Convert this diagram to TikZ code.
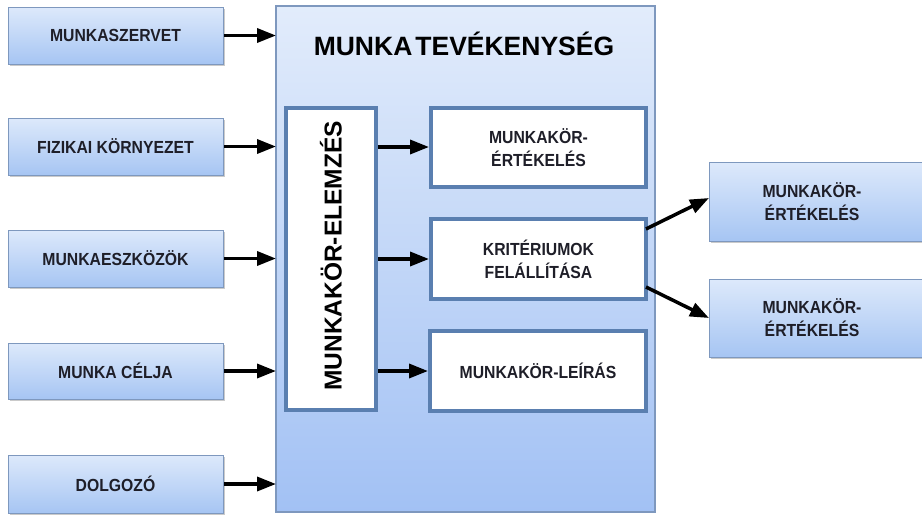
\documentclass[tikz,border=0pt]{standalone}
\usepackage{fontspec}
\setmainfont{Liberation Sans}
\usetikzlibrary{arrows.meta,shadows}
\definecolor{boxtop}{HTML}{DDE9FB}
\definecolor{boxbot}{HTML}{A6C5F3}
\definecolor{boxedge}{HTML}{7E98BE}
\definecolor{bigtop}{HTML}{E2ECFB}
\definecolor{bigbot}{HTML}{A2C1F4}
\definecolor{inneredge}{HTML}{5A7FB0}
\definecolor{txt}{HTML}{1E1E28}
% slightly condensed, taller lettering
\newcommand\cond[1]{\scalebox{0.9}[1]{#1}}
\tikzset{
  x=1pt, y=-1pt,
  inbox/.style={draw=boxedge, line width=1pt, top color=boxtop, bottom color=boxbot,
    drop shadow={shadow xshift=1.5pt, shadow yshift=-1.5pt, opacity=0.35, fill=black!60}},
  bigbox/.style={draw=boxedge, line width=1.2pt, top color=bigtop, bottom color=bigbot},
  wbox/.style={draw=inneredge, line width=3.2pt, fill=white},
  lbl/.style={font=\bfseries\fontsize{17.5}{23}\selectfont, text=txt, align=center},
  flow/.style={line width=3.5pt, -{Triangle[length=19pt,width=14pt]}}
}
\begin{document}
\begin{tikzpicture}
\useasboundingbox (0,0) rectangle (922,515);
\begin{scope}
\clip (0,0) rectangle (922,515);

% outer activity box
\path[bigbox] (276,6) rectangle (655,512);
\coordinate (bigW1) at (276,35.5);
\coordinate (bigW2) at (276,146.5);
\coordinate (bigW3) at (276,258.5);
\coordinate (bigW4) at (276,371);
\coordinate (bigW5) at (276,484);
\node[font=\bfseries\fontsize{26.5}{28}\selectfont, text=black] (title) at (464,44) {MUNKA\hspace{3pt}TEVÉKENYSÉG};

% input boxes
\path[inbox] (8,7) rectangle (223,64);
\node[lbl] (in1) at (115.5,35.5) {\cond{MUNKASZERVET}};
\path[inbox] (8,118) rectangle (223,175);
\node[lbl] (in2) at (115.5,146.5) {\cond{FIZIKAI KÖRNYEZET}};
\path[inbox] (8,230) rectangle (223,287);
\node[lbl] (in3) at (115.5,258.5) {\cond{MUNKAESZKÖZÖK}};
\path[inbox] (8,343) rectangle (223,399);
\node[lbl] (in4) at (115.5,371) {\cond{MUNKA CÉLJA}};
\path[inbox] (8,455) rectangle (223,513);
\node[lbl] (in5) at (115.5,484) {\cond{DOLGOZÓ}};

\coordinate (in1E) at (224,35.5);
\coordinate (in2E) at (224,146.5);
\coordinate (in3E) at (224,258.5);
\coordinate (in4E) at (224,371);
\coordinate (in5E) at (224,484);

% job analysis column
\path[wbox] (286,108) rectangle (376,410);
\node[font=\bfseries\fontsize{24.5}{28}\selectfont, text=black, rotate=90] (elem) at (331,256) {MUNKAKÖR-ELEMZÉS};
\coordinate (elemE1) at (378,147);
\coordinate (elemE2) at (378,259);
\coordinate (elemE3) at (378,371);

% output boxes inside
\path[wbox] (431,108) rectangle (646,187);
\node[lbl] (ert) at (538.5,147.5) {\cond{MUNKAKÖR-}\\\cond{ÉRTÉKELÉS}};
\path[wbox] (431,219) rectangle (646,299);
\node[lbl] (krit) at (538.5,259) {\cond{KRITÉRIUMOK}\\\cond{FELÁLLÍTÁSA}};
\path[wbox] (430,331) rectangle (646,411);
\node[lbl] (leir) at (538,371) {\cond{MUNKAKÖR-LEÍRÁS}};
\coordinate (ertW) at (429,147);
\coordinate (kritW) at (429,259);
\coordinate (leirW) at (428,371);
\coordinate (kritE1) at (646,229);
\coordinate (kritE2) at (646,287);

% boxes to the right
\path[inbox] (709,162) rectangle (935,241);
\node[lbl] (r1) at (812,201.5) {\cond{MUNKAKÖR-}\\\cond{ÉRTÉKELÉS}};
\path[inbox] (709,279) rectangle (935,357);
\node[lbl] (r2) at (812,318) {\cond{MUNKAKÖR-}\\\cond{ÉRTÉKELÉS}};
\coordinate (r1W) at (709,198);
\coordinate (r2W) at (709,318);

% connectors
\draw[flow] (in1E) -- (bigW1);
\draw[flow] (in2E) -- (bigW2);
\draw[flow] (in3E) -- (bigW3);
\draw[flow] (in4E) -- (bigW4);
\draw[flow] (in5E) -- (bigW5);
\draw[flow] (elemE1) -- (ertW);
\draw[flow] (elemE2) -- (kritW);
\draw[flow] (elemE3) -- (leirW);
\draw[flow] (kritE1) -- (r1W);
\draw[flow] (kritE2) -- (r2W);
\end{scope}
\end{tikzpicture}
\end{document}
